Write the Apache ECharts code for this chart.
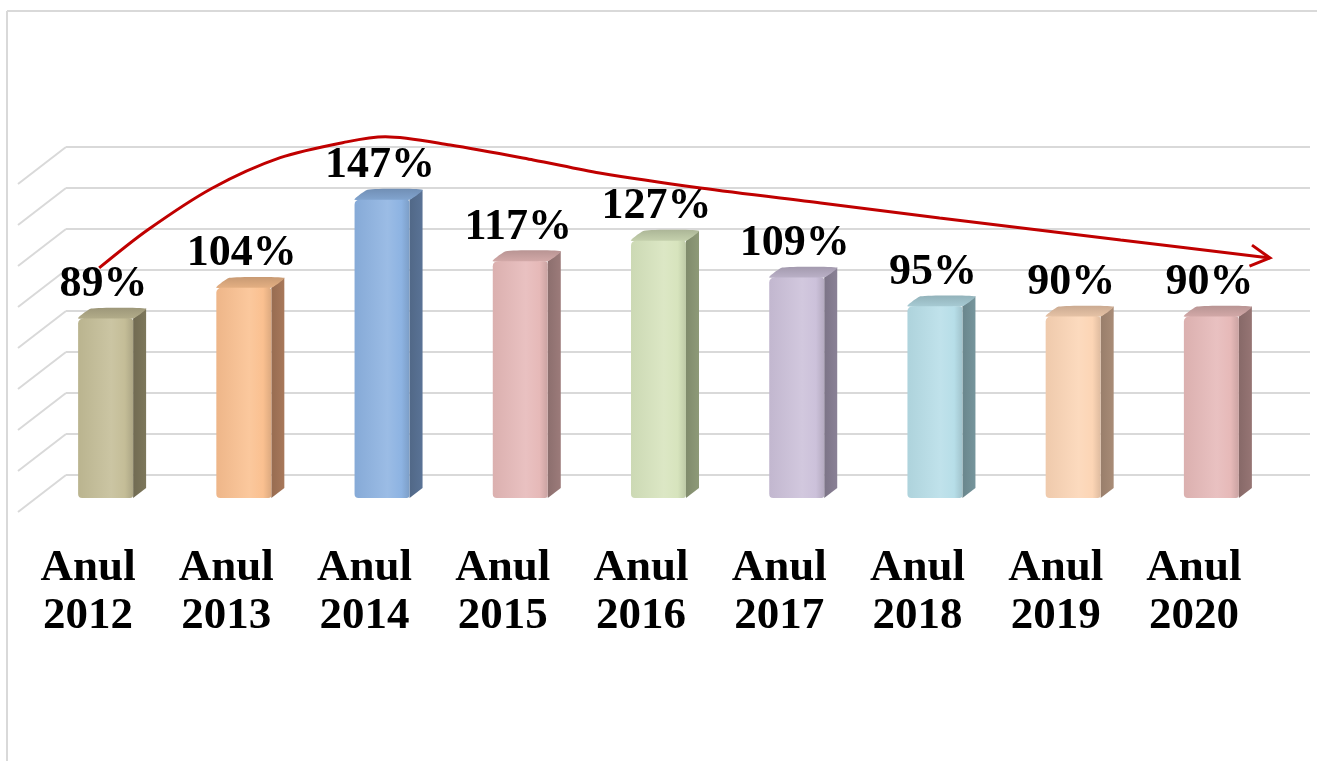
<html lang="ro">
<head>
	<meta charset="UTF-8">
	<script src="https://cdn.jsdelivr.net/npm/echarts@6/dist/echarts.min.js"></script>
	<title>Anul 2012 - 2020</title>
</head>
<body style="margin:0;background:#fff">
<div id="pic" style="width:1317px;height:761px"></div>
</body>
<script>
	"use strict";

	const years=["2012","2013","2014","2015","2016","2017","2018","2019","2020"];
	const values=[89,104,147,117,127,109,95,90,90];
	const ticks=[0,20,40,60,80,100,120,140,160];
	const front=["#c4bd97","#fac090","#8db3e2","#e6b9b8","#d7e4bd","#ccc1da","#b7dee8","#fcd5b5","#e6b9b8"];
	const side=["#7d775b","#a8785a","#5a7396","#9c7b7a","#8e9a78","#8a8196","#76959c","#a98c77","#967574"];
	const trendX=[-0.26,0.09,0.56,1.05,1.53,1.81,2.28,2.88,3.36,4.09,4.96,5.82,7.13,8.21];
	const trendY=[101,119.5,140,154.8,162.5,165,161,153.7,147.3,140,132.7,125.4,114.6,105.9];

	const font="bold 44px 'Liberation Serif'";

	function shade(c,k)
	{
		let n=parseInt(c.slice(1),16);
		let r=(n>>16)&255,g=(n>>8)&255,b=n&255;
		let f=x=>Math.max(0,Math.min(255,Math.round(k>1?x+(255-x)*(k-1):x*k)));
		return "rgb("+f(r)+","+f(g)+","+f(b)+")";
	}

	function bar(params,api)
	{
		let i=api.value(0),v=api.value(1);
		let b=api.coord([i,0]),t=api.coord([i,v]);
		let cx=b[0]-29.5,L=cx-27.5,R=cx+27.5;
		let yb=b[1]+23,yt=t[1]+26,d=13,h=10;
		let c=front[i],s=side[i];
		return {
			type:"group",
			children:[
				{
					type:"polygon",
					shape:{points:[[R,yb],[R+d,yb-h],[R+d,yt-h],[R,yt]]},
					style:{fill:new echarts.graphic.LinearGradient(0,0,1,0,[{offset:0,color:shade(s,0.9)},{offset:1,color:s}])}
				},
				{
					type:"polygon",
					shape:{points:[[L,yt],[L+d,yt-h],[R+d,yt-h],[R,yt]],smooth:0.15},
					style:{fill:new echarts.graphic.LinearGradient(0,0,0,1,[{offset:0,color:shade(c,0.8)},{offset:1,color:shade(c,0.92)}])}
				},
				{
					type:"rect",
					shape:{x:L,y:yt,width:R-L,height:yb-yt,r:[5,3,3,4]},
					style:{fill:new echarts.graphic.LinearGradient(0,0,1,0,[
						{offset:0,color:shade(c,0.95)},
						{offset:0.6,color:shade(c,1.12)},
						{offset:0.85,color:c},
						{offset:1,color:shade(c,0.88)}
					])}
				},
				{
					type:"text",
					style:{text:v+"%",x:cx-2,y:yt-h-24,align:"center",verticalAlign:"middle",font:font,fill:"#000"}
				}
			]
		};
	}

	function wall(params,api)
	{
		let p=api.coord([0,api.value(1)]);
		let x0=p[0]-api.size([1,0])[0]/2;
		return {
			type:"line",
			shape:{x1:x0,y1:p[1],x2:x0-48,y2:p[1]+37},
			style:{stroke:"#d9d9d9",lineWidth:2}
		};
	}

	function arrow(params,api)
	{
		let n=trendX.length;
		let p=api.coord([trendX[n-1],trendY[n-1]]),q=api.coord([trendX[n-2],trendY[n-2]]);
		let a=Math.atan2(p[1]-q[1],p[0]-q[0]),len=22,w=0.5;
		return {
			type:"polyline",
			shape:{points:[
				[p[0]-len*Math.cos(a-w),p[1]-len*Math.sin(a-w)],
				[p[0],p[1]],
				[p[0]-len*Math.cos(a+w),p[1]-len*Math.sin(a+w)]
			]},
			style:{stroke:"#c00000",lineWidth:3,fill:null}
		};
	}

	let pic=echarts.init(document.getElementById("pic"));
	let option=
		{
			animation:false,
			grid:[
				{left:66,right:7,top:147,bottom:286},
				{left:19,right:54,top:147,bottom:286}
			],
			xAxis:[
				{type:"category",gridIndex:0,data:years,axisLine:{show:false},axisTick:{show:false},axisLabel:{show:false}},
				{type:"value",gridIndex:0,min:-0.5,max:8.5,show:false},
				{
					type:"category",gridIndex:1,data:years.map(y=>"Anul\n"+y),
					axisLine:{show:false},axisTick:{show:false},
					axisLabel:{margin:69,fontFamily:"Liberation Serif",fontWeight:"bold",fontSize:45,lineHeight:48,color:"#000"}
				}
			],
			yAxis:[
				{
					type:"value",gridIndex:0,min:0,max:160,interval:20,
					axisLine:{show:false},axisTick:{show:false},axisLabel:{show:false},
					splitLine:{lineStyle:{color:"#d9d9d9",width:2}}
				},
				{type:"value",gridIndex:1,min:0,max:160,show:false}
			],
			series:[
				{
					type:"custom",xAxisIndex:0,yAxisIndex:0,
					data:ticks.map(v=>[0,v]),renderItem:wall,silent:true,z:1
				},
				{
					type:"custom",xAxisIndex:0,yAxisIndex:0,
					data:values.map((v,i)=>[i,v]),renderItem:bar,z:3
				},
				{
					type:"line",xAxisIndex:1,yAxisIndex:0,
					data:trendX.map((x,i)=>[x,trendY[i]]),
					smooth:0.3,symbol:"none",clip:false,
					lineStyle:{color:"#c00000",width:3},z:5
				},
				{
					type:"custom",xAxisIndex:1,yAxisIndex:0,
					data:[[trendX[trendX.length-1],trendY[trendY.length-1]]],renderItem:arrow,clip:false,z:5
				}
			],
			graphic:[
				{type:"line",shape:{x1:7,y1:11,x2:1317,y2:11},style:{stroke:"#d9d9d9",lineWidth:2}},
				{type:"line",shape:{x1:7,y1:11,x2:7,y2:761},style:{stroke:"#d9d9d9",lineWidth:2}}
			]
		};
	pic.setOption(option);
</script>
</html>
